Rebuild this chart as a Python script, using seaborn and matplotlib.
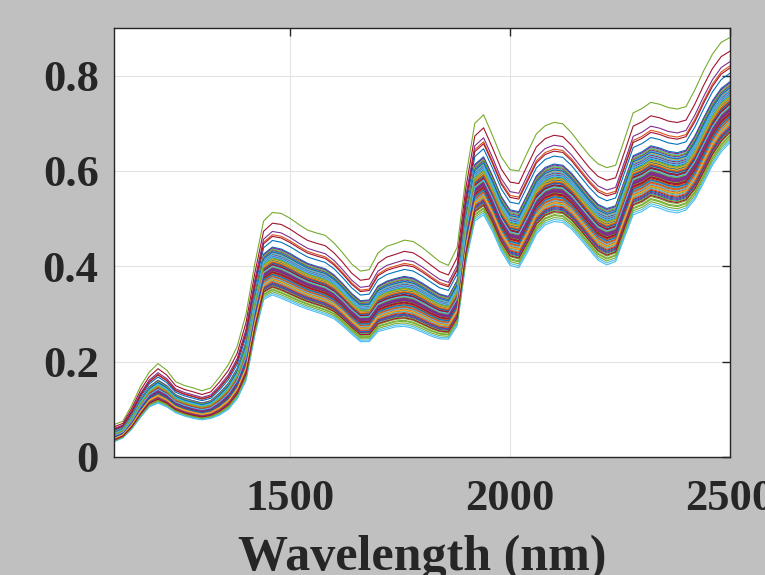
import numpy as np
import pandas as pd
import seaborn as sns
import matplotlib.pyplot as plt

# wavelengths (nm) where the envelope of the spectra was read
wavelength = [1100, 1120, 1140, 1160, 1180, 1200, 1220, 1240, 1260, 1280,
              1300, 1320, 1340, 1360, 1380, 1400, 1420, 1440, 1460, 1480,
              1500, 1520, 1540, 1560, 1580, 1600, 1620, 1640, 1660, 1680,
              1700, 1720, 1740, 1760, 1780, 1800, 1820, 1840, 1860, 1880,
              1900, 1920, 1940, 1960, 1980, 2000, 2020, 2040, 2060, 2080,
              2100, 2120, 2140, 2160, 2180, 2200, 2220, 2240, 2260, 2280,
              2300, 2320, 2340, 2360, 2380, 2400, 2420, 2440, 2460, 2480, 2500]

# highest spectrum
upper = [0.068, 0.075, 0.108, 0.148, 0.178, 0.196, 0.182, 0.158, 0.150, 0.145,
         0.139, 0.145, 0.168, 0.194, 0.232, 0.300, 0.405, 0.495, 0.513, 0.511,
         0.501, 0.488, 0.476, 0.470, 0.465, 0.449, 0.428, 0.405, 0.390, 0.393,
         0.428, 0.442, 0.448, 0.455, 0.452, 0.440, 0.425, 0.410, 0.402, 0.440,
         0.590, 0.700, 0.718, 0.675, 0.630, 0.603, 0.600, 0.640, 0.678, 0.695,
         0.702, 0.699, 0.680, 0.656, 0.633, 0.615, 0.607, 0.612, 0.666, 0.722,
         0.731, 0.744, 0.740, 0.733, 0.730, 0.735, 0.770, 0.810, 0.845, 0.870, 0.880]

# lowest spectrum
lower = [0.032, 0.040, 0.058, 0.083, 0.105, 0.113, 0.105, 0.093, 0.086, 0.081,
         0.078, 0.081, 0.088, 0.100, 0.122, 0.160, 0.255, 0.330, 0.340, 0.333,
         0.325, 0.317, 0.310, 0.304, 0.298, 0.290, 0.275, 0.258, 0.242, 0.242,
         0.263, 0.268, 0.273, 0.274, 0.270, 0.262, 0.254, 0.248, 0.247, 0.275,
         0.410, 0.495, 0.508, 0.474, 0.432, 0.402, 0.397, 0.430, 0.468, 0.487,
         0.494, 0.492, 0.478, 0.457, 0.435, 0.413, 0.403, 0.410, 0.460, 0.508,
         0.515, 0.527, 0.522, 0.515, 0.512, 0.518, 0.540, 0.575, 0.612, 0.640, 0.660]

# relative level of each sample between lowest (0) and highest (1), in plot order
level = [0.66, 0.73, 0.45, 0.77, 1.00, 0.00, 0.87, 0.58, 0.32, 0.21,
         0.50, 0.04, 0.02, 0.71, 0.41, 0.27, 0.55, 0.36, 0.18, 0.47,
         0.30, 0.12, 0.52, 0.39, 0.24, 0.44, 0.56, 0.15, 0.33, 0.48,
         0.26, 0.38, 0.09, 0.53, 0.29, 0.42, 0.20, 0.35, 0.57, 0.23,
         0.46, 0.31, 0.14, 0.40, 0.51, 0.28, 0.37, 0.17, 0.49, 0.34,
         0.43, 0.25, 0.54, 0.07, 0.38, 0.30, 0.45, 0.22, 0.40, 0.33,
         0.11, 0.50, 0.27, 0.36, 0.19, 0.44, 0.31, 0.55, 0.24, 0.39,
         0.42, 0.16, 0.35, 0.47, 0.29, 0.21, 0.37, 0.52, 0.26, 0.41,
         0.13, 0.34, 0.46, 0.28, 0.39, 0.23, 0.43, 0.32, 0.06, 0.48,
         0.36, 0.25, 0.40, 0.19, 0.30, 0.44, 0.35, 0.10]

matlab_colors = ['#0072BD', '#D95319', '#EDB120', '#7E2F8E',
                 '#77AC30', '#4DBEEE', '#A2142F']

wl = np.array(wavelength)
lo = np.array(lower)
hi = np.array(upper)
frames = []
for i, k in enumerate(level):
    frames.append(pd.DataFrame({'wavelength': wl,
                                'absorbance': lo + k * (hi - lo),
                                'sample': i}))
df = pd.concat(frames, ignore_index=True)
palette = [matlab_colors[i % 7] for i in range(len(level))]

sns.set_style('white')
plt.rcParams['font.family'] = ['Liberation Serif', 'DejaVu Serif']

fig = plt.figure(figsize=(7.65, 5.75), dpi=100, facecolor='#c0c0c0')
ax = fig.add_axes([114/765, 1 - 457/575, 616/765, 429/575])
ax.set_facecolor('white')

sns.lineplot(data=df, x='wavelength', y='absorbance', hue='sample',
             palette=palette, legend=False, estimator=None, sort=False,
             linewidth=0.8, ax=ax)

ax.set_xlim(1100, 2500)
ax.set_ylim(0, 0.9)
ax.set_xticks([1500, 2000, 2500])
ax.set_yticks([0, 0.2, 0.4, 0.6, 0.8])
ax.set_yticklabels(['0', '0.2', '0.4', '0.6', '0.8'])
ax.grid(True, color='#e3e3e3', linewidth=0.8)
ax.set_axisbelow(True)
for s in ax.spines.values():
    s.set_visible(True)
    s.set_color('#262626')
    s.set_linewidth(1.0)
ax.tick_params(direction='in', length=6, width=1, color='#262626',
               top=True, right=True, labelsize=32, labelcolor='#262626')
ax.tick_params(axis='y', pad=11)
ax.tick_params(axis='x', pad=16)
for lab in ax.get_xticklabels() + ax.get_yticklabels():
    lab.set_fontweight('bold')
ax.set_xlabel('Wavelength (nm)', fontsize=36, fontweight='bold',
              color='#262626', labelpad=11)
ax.set_ylabel('')

fig.savefig('out.png', dpi=100, facecolor=fig.get_facecolor())
